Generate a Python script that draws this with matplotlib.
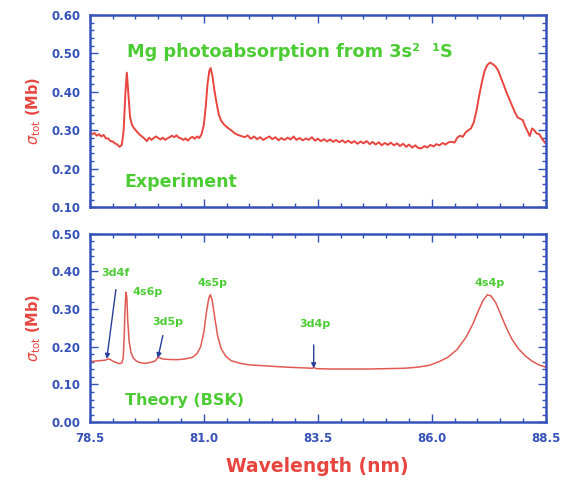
import matplotlib
matplotlib.use("Agg")
import matplotlib.pyplot as plt
from matplotlib.ticker import MultipleLocator, FormatStrFormatter

# ── Data ─────────────────────────────────────────────────────────────────────

exp_wl = [78.50, 78.55, 78.60, 78.65, 78.70, 78.75, 78.80, 78.85, 78.90, 78.95,
          79.00, 79.05, 79.10, 79.15, 79.20, 79.24, 79.28, 79.31, 79.34, 79.38,
          79.42, 79.47, 79.52, 79.58, 79.63, 79.70, 79.75, 79.80, 79.85, 79.90,
          79.95, 80.00, 80.05, 80.10, 80.15, 80.20, 80.25, 80.30, 80.35, 80.40,
          80.45, 80.50, 80.55, 80.60, 80.65, 80.70, 80.75, 80.80, 80.85, 80.90,
          80.95, 81.00, 81.04, 81.08, 81.12, 81.15, 81.19, 81.23, 81.28, 81.33,
          81.38, 81.45, 81.52, 81.60, 81.68, 81.75, 81.82, 81.90, 81.96, 82.03,
          82.10, 82.17, 82.24, 82.30, 82.37, 82.44, 82.50, 82.57, 82.64, 82.70,
          82.77, 82.84, 82.90, 82.97, 83.03, 83.10, 83.17, 83.24, 83.30, 83.37,
          83.44, 83.50, 83.57, 83.64, 83.70, 83.77, 83.84, 83.90, 83.97, 84.04,
          84.10, 84.17, 84.24, 84.30, 84.37, 84.44, 84.50, 84.57, 84.64, 84.70,
          84.77, 84.84, 84.90, 84.97, 85.04, 85.10, 85.17, 85.24, 85.30, 85.37,
          85.44, 85.50, 85.57, 85.64, 85.70, 85.77, 85.84, 85.90, 85.97, 86.04,
          86.10, 86.17, 86.24, 86.30, 86.37, 86.44, 86.50, 86.56, 86.62, 86.68,
          86.74, 86.80, 86.86, 86.92, 86.98, 87.04, 87.10, 87.16, 87.22, 87.28,
          87.34, 87.40, 87.46, 87.52, 87.58, 87.64, 87.70, 87.76, 87.82, 87.88,
          87.94, 88.00, 88.05, 88.10, 88.15, 88.20, 88.25, 88.30, 88.36, 88.42,
          88.48]
exp_sigma = [0.295, 0.290, 0.293, 0.286, 0.290, 0.284, 0.288, 0.279, 0.279, 0.272,
             0.271, 0.266, 0.263, 0.257, 0.262, 0.300, 0.400, 0.450, 0.400, 0.335,
             0.315, 0.305, 0.298, 0.290, 0.285, 0.278, 0.272, 0.281, 0.275, 0.280,
             0.284, 0.280, 0.276, 0.281, 0.275, 0.279, 0.282, 0.286, 0.282, 0.287,
             0.281, 0.279, 0.275, 0.279, 0.273, 0.280, 0.283, 0.278, 0.284, 0.280,
             0.290, 0.315, 0.360, 0.420, 0.455, 0.462, 0.440, 0.405, 0.370, 0.340,
             0.325, 0.314, 0.307, 0.300, 0.292, 0.288, 0.285, 0.282, 0.287, 0.278,
             0.284, 0.277, 0.282, 0.275, 0.280, 0.284, 0.277, 0.282, 0.274, 0.280,
             0.275, 0.281, 0.276, 0.284, 0.275, 0.280, 0.274, 0.279, 0.275, 0.282,
             0.273, 0.278, 0.272, 0.277, 0.271, 0.276, 0.270, 0.275, 0.269, 0.274,
             0.268, 0.273, 0.267, 0.272, 0.265, 0.271, 0.266, 0.272, 0.264, 0.270,
             0.263, 0.269, 0.261, 0.267, 0.262, 0.268, 0.261, 0.266, 0.259, 0.265,
             0.257, 0.263, 0.255, 0.261, 0.254, 0.253, 0.259, 0.255, 0.262, 0.258,
             0.264, 0.261, 0.267, 0.263, 0.269, 0.270, 0.268, 0.281, 0.286, 0.283,
             0.294, 0.300, 0.305, 0.320, 0.350, 0.390, 0.425, 0.455, 0.470, 0.476,
             0.472, 0.466, 0.455, 0.436, 0.418, 0.398, 0.382, 0.365, 0.348, 0.334,
             0.330, 0.326, 0.310, 0.298, 0.285, 0.305, 0.300, 0.292, 0.290, 0.278,
             0.268]

th_wl = [78.50, 78.60, 78.70, 78.80, 78.85, 78.90, 78.95, 79.00, 79.08, 79.15,
         79.20, 79.23, 79.25, 79.27, 79.29, 79.31, 79.33, 79.36, 79.40, 79.45,
         79.52, 79.60, 79.70, 79.80, 79.88, 79.94, 79.98, 80.02, 80.08, 80.15,
         80.30, 80.45, 80.60, 80.75, 80.85, 80.93, 81.00, 81.06, 81.11, 81.14,
         81.18, 81.23, 81.30, 81.38, 81.48, 81.60, 81.80, 82.00, 82.40, 82.80,
         83.20, 83.38, 83.42, 83.46, 83.80, 84.20, 84.60, 85.00, 85.40, 85.70,
         85.95, 86.15, 86.35, 86.55, 86.75, 86.90, 87.02, 87.12, 87.22, 87.30,
         87.40, 87.50, 87.62, 87.75, 87.90, 88.05, 88.20, 88.35, 88.50]
th_sigma = [0.160, 0.162, 0.163, 0.164, 0.165, 0.168, 0.166, 0.162, 0.158, 0.155,
            0.157, 0.170, 0.220, 0.300, 0.345, 0.330, 0.270, 0.215, 0.185, 0.170,
            0.162, 0.158, 0.156, 0.158, 0.160, 0.163, 0.170, 0.172, 0.168, 0.167,
            0.166, 0.166, 0.168, 0.172, 0.182, 0.200, 0.240, 0.295, 0.330, 0.338,
            0.325, 0.285, 0.230, 0.195, 0.175, 0.163, 0.156, 0.152, 0.149, 0.146,
            0.144, 0.143, 0.145, 0.142, 0.141, 0.141, 0.141, 0.142, 0.143, 0.146,
            0.151, 0.160, 0.172, 0.192, 0.225, 0.260, 0.295, 0.322, 0.338, 0.335,
            0.318, 0.290, 0.255, 0.222, 0.195, 0.176, 0.162, 0.152, 0.146]

# resonance labels: (text, x, y) and arrows (tail, head) for the weak ones
peak_labels = [("3d4f", 78.76, 0.395, "left"),
               ("4s6p", 79.44, 0.345, "left"),
               ("3d5p", 79.86, 0.265, "left"),
               ("4s5p", 81.18, 0.370, "center"),
               ("3d4p", 83.43, 0.260, "center"),
               ("4s4p", 87.27, 0.370, "center")]
peak_arrows = [((79.07, 0.352), (78.87, 0.168)),
               ((80.10, 0.230), (79.99, 0.170)),
               ((83.41, 0.205), (83.41, 0.143))]

xticks = [78.5, 81.0, 83.5, 86.0, 88.5]

BLUE  = "#3552b8"
RED   = "#e8453f"
GREEN = "#4ccc33"

# ── Figure ───────────────────────────────────────────────────────────────────

fig = plt.figure(figsize=(5.62, 4.83), dpi=100)
ax1 = fig.add_axes([0.160, 0.571, 0.811, 0.398])
ax2 = fig.add_axes([0.160, 0.126, 0.811, 0.390])


def style(ax, ylo, yhi, show_x):
    ax.set_xlim(78.5, 88.5)
    ax.set_ylim(ylo, yhi)
    ax.set_xticks(xticks)
    ax.xaxis.set_minor_locator(MultipleLocator(0.5))
    ax.yaxis.set_major_locator(MultipleLocator(0.1))
    ax.yaxis.set_minor_locator(MultipleLocator(0.02))
    ax.yaxis.set_major_formatter(FormatStrFormatter("%.2f"))
    ax.xaxis.set_major_formatter(FormatStrFormatter("%.1f"))
    for sp in ax.spines.values():
        sp.set_color(BLUE)
        sp.set_linewidth(1.8)
    ax.tick_params(which="both", direction="in", top=True, right=True, color=BLUE,
                   labelcolor=BLUE, labelsize=8.5, width=1.0)
    ax.tick_params(which="major", length=6, pad=7)
    ax.tick_params(which="minor", length=3)
    ax.tick_params(axis="x", labelbottom=show_x)
    for lab in ax.get_xticklabels() + ax.get_yticklabels():
        lab.set_fontweight("bold")
    ax.set_ylabel(r"$\sigma_{\rm tot}$ (Mb)", color=RED, fontsize=10.5,
                  fontweight="bold", labelpad=6)


# top: experiment
ax1.plot(exp_wl, exp_sigma, color=RED, lw=1.4)
style(ax1, 0.10, 0.60, False)
ax1.text(0.081, 0.805, "Mg photoabsorption from 3s²  ¹S", transform=ax1.transAxes,
         color=GREEN, fontsize=12.8, fontweight="bold", va="center")
ax1.text(0.075, 0.13, "Experiment", transform=ax1.transAxes,
         color=GREEN, fontsize=12.5, fontweight="bold", va="center")

# bottom: theory
ax2.plot(th_wl, th_sigma, color="#e05a55", lw=1.1)
style(ax2, 0.00, 0.50, True)
ax2.text(0.077, 0.117, "Theory (BSK)", transform=ax2.transAxes,
         color=GREEN, fontsize=11.5, fontweight="bold", va="center")
for txt, x, y, ha in peak_labels:
    ax2.text(x, y, txt, color=GREEN, fontsize=8, fontweight="bold",
             ha=ha, va="center")
for tail, head in peak_arrows:
    ax2.annotate("", xy=head, xytext=tail,
                 arrowprops=dict(arrowstyle="-|>", color="#2a3f9a", lw=1.0,
                                 mutation_scale=7, shrinkA=0, shrinkB=0))

ax2.set_xlabel("Wavelength (nm)", color=RED, fontsize=13.5, fontweight="bold",
               labelpad=9)

fig.savefig("out.png", dpi=100)
